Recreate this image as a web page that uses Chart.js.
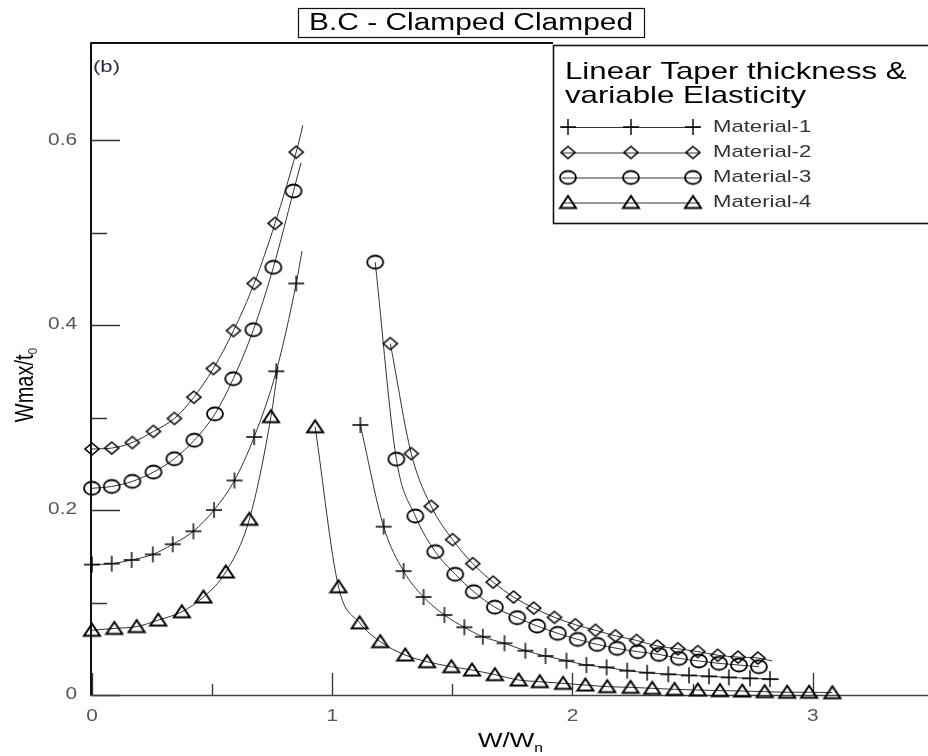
<!DOCTYPE html>
<html>
<head>
<meta charset="utf-8">
<script src="https://cdn.jsdelivr.net/npm/chart.js@4.4.1/dist/chart.umd.min.js"></script>
<style>
    html, body { margin: 0; padding: 0; background: #fff; }
    #chart { display: block; }
</style>
</head>
<body>
<canvas id="chart" width="928" height="756"></canvas>
<script>
const materials = ['Material-1', 'Material-2', 'Material-3', 'Material-4'];

// W/Wn (x) and Wmax/to (y). Left = below resonance, right = above.
const m1LeftX = [0, 0.082, 0.165, 0.253, 0.336, 0.422, 0.508, 0.593, 0.675, 0.767, 0.85];
const m1LeftY = [0.141, 0.142, 0.146, 0.152, 0.163, 0.177, 0.200, 0.232, 0.279, 0.350, 0.445];
const m1RightX = [1.117, 1.214, 1.297, 1.380, 1.467, 1.550, 1.627, 1.717, 1.804, 1.888, 1.975, 2.058, 2.142, 2.228, 2.311, 2.399, 2.485, 2.568, 2.651, 2.739, 2.822];
const m1RightY = [0.292, 0.182, 0.134, 0.106, 0.0865, 0.0732, 0.063, 0.0559, 0.0479, 0.0422, 0.0371, 0.0324, 0.0299, 0.0263, 0.0241, 0.0224, 0.0212, 0.0202, 0.0190, 0.0180, 0.0172];

const m2LeftX = [0, 0.082, 0.168, 0.256, 0.343, 0.424, 0.505, 0.589, 0.675, 0.762, 0.85];
const m2LeftY = [0.266, 0.267, 0.273, 0.285, 0.299, 0.322, 0.353, 0.394, 0.445, 0.510, 0.587];
const m2RightX = [1.242, 1.329, 1.412, 1.501, 1.585, 1.670, 1.755, 1.839, 1.925, 2.012, 2.096, 2.179, 2.267, 2.353, 2.439, 2.522, 2.605, 2.689, 2.772];
const m2RightY = [0.380, 0.261, 0.204, 0.168, 0.142, 0.122, 0.106, 0.094, 0.084, 0.076, 0.070, 0.064, 0.059, 0.053, 0.050, 0.047, 0.043, 0.041, 0.040];

const m3LeftX = [0, 0.082, 0.168, 0.256, 0.343, 0.426, 0.512, 0.588, 0.672, 0.755, 0.839];
const m3LeftY = [0.2235, 0.2255, 0.231, 0.241, 0.2555, 0.2755, 0.304, 0.342, 0.395, 0.4625, 0.545];
const m3RightX = [1.179, 1.267, 1.346, 1.429, 1.512, 1.589, 1.677, 1.770, 1.853, 1.939, 2.022, 2.103, 2.186, 2.272, 2.360, 2.443, 2.526, 2.610, 2.693, 2.776];
const m3RightY = [0.468, 0.255, 0.1935, 0.155, 0.1305, 0.1117, 0.095, 0.0836, 0.0746, 0.0667, 0.0601, 0.0547, 0.0504, 0.0468, 0.0439, 0.0396, 0.0368, 0.0342, 0.0324, 0.0306];

const m4LeftX = [0, 0.093, 0.186, 0.276, 0.374, 0.464, 0.557, 0.655, 0.745];
const m4LeftY = [0.070, 0.072, 0.074, 0.081, 0.090, 0.106, 0.133, 0.190, 0.301];
const m4RightX = [0.929, 1.026, 1.114, 1.200, 1.304, 1.395, 1.496, 1.582, 1.677, 1.776, 1.864, 1.961, 2.054, 2.145, 2.242, 2.332, 2.425, 2.522, 2.614, 2.707, 2.800, 2.894, 2.985, 3.082];
const m4RightY = [0.290, 0.117, 0.078, 0.0577, 0.0432, 0.036, 0.0306, 0.027, 0.022, 0.0162, 0.0144, 0.0126, 0.0108, 0.009, 0.0083, 0.0072, 0.0061, 0.0054, 0.0047, 0.0043, 0.0036, 0.003, 0.003, 0.0025];

// curve runs on a little past the last marker (no marker drawn there)
const leftTipX = [0.874, 0.878, 0.870, 0.775];
const leftTipY = [0.480, 0.616, 0.5755, 0.355];
const rightTailX = [2.86, 2.832, null, null];
const rightTailY = [0.017, 0.0368, null, null];

const xTickValues = [0, 0.5, 1, 1.5, 2, 2.5, 3];
const xTickLabels = ['0', '', '1', '', '2', '', '3'];
const yTickValues = [0, 0.1, 0.2, 0.3, 0.4, 0.5, 0.6];
const yTickLabels = ['0', '', '0.2', '', '0.4', '', '0.6'];

const FONT = "'Liberation Sans', Arial, sans-serif";
const SX = 1.3; // the source figure is stretched sideways

function makeMarker(kind) {
    const c = document.createElement('canvas');
    c.width = 20; c.height = 18;
    const g = c.getContext('2d');
    const cx = 10, cy = 9;
    g.strokeStyle = '#000';
    g.lineWidth = 1.8;
    g.beginPath();
    if (kind === 'plus') {
        g.lineWidth = 1.4;
        g.moveTo(cx - 8, cy); g.lineTo(cx + 8, cy);
        g.moveTo(cx, cy - 8); g.lineTo(cx, cy + 8);
    } else if (kind === 'diamond') {
        g.lineWidth = 1.6;
        g.moveTo(cx, cy - 6); g.lineTo(cx + 7, cy); g.lineTo(cx, cy + 6); g.lineTo(cx - 7, cy); g.closePath();
    } else if (kind === 'circle') {
        g.ellipse(cx, cy, 8, 6.5, 0, 0, Math.PI * 2);
    } else {
        g.lineWidth = 2;
        g.moveTo(cx, cy - 6.5); g.lineTo(cx + 8, cy + 5.5); g.lineTo(cx - 8, cy + 5.5); g.closePath();
    }
    g.stroke();
    return c;
}

const markers = ['plus', 'diamond', 'circle', 'triangle'].map(makeMarker);

const branches = [
    [m1LeftX, m1LeftY, m1RightX, m1RightY],
    [m2LeftX, m2LeftY, m2RightX, m2RightY],
    [m3LeftX, m3LeftY, m3RightX, m3RightY],
    [m4LeftX, m4LeftY, m4RightX, m4RightY]
];

const pts = (xs, ys) => xs.map((x, i) => ({ x, y: ys[i] }));

const datasets = [];
branches.forEach(([lx, ly, rx, ry], i) => {
    const left = pts(lx, ly);
    left.push({ x: leftTipX[i], y: leftTipY[i], tip: true });
    const right = pts(rx, ry);
    if (rightTailX[i] !== null) right.push({ x: rightTailX[i], y: rightTailY[i], tip: true });
    [left, right].forEach((data, k) => datasets.push({
        label: materials[i] + (k ? ' (above)' : ' (below)'),
        data,
        pointStyle: markers[i],
        pointRadius: (c) => (c.raw && c.raw.tip ? 0 : 8),
        borderColor: '#333',
        borderWidth: 1,
        fill: false,
        cubicInterpolationMode: 'monotone',
        clip: 20
    }));
});

function text(ctx, str, x, y, size, color, align = 'left', base = 'alphabetic') {
    ctx.save();
    ctx.font = `${size}px ${FONT}`;
    ctx.fillStyle = color;
    ctx.textBaseline = base;
    ctx.textAlign = 'left';
    const w = ctx.measureText(str).width * SX;
    const x0 = align === 'center' ? x - w / 2 : (align === 'right' ? x - w : x);
    ctx.translate(x0, y);
    ctx.scale(SX, 1);
    ctx.fillText(str, 0, 0);
    ctx.restore();
    return w;
}

const framePlugin = {
    id: 'frame',
    beforeDatasetsDraw(chart) {
        const { ctx, chartArea: a, scales: { x, y } } = chart;
        ctx.save();
        ctx.strokeStyle = '#333';
        ctx.lineWidth = 1.3;
        ctx.beginPath();
        yTickValues.forEach((v, i) => {
            const py = Math.round(y.getPixelForValue(v)) + 0.5;
            ctx.moveTo(a.left, py);
            ctx.lineTo(a.left + (yTickLabels[i] ? 28 : 15), py);
        });
        xTickValues.forEach((v, i) => {
            const px = Math.round(x.getPixelForValue(v)) + 0.5;
            ctx.moveTo(px, a.bottom);
            ctx.lineTo(px, a.bottom - (xTickLabels[i] ? 22 : 11));
        });
        ctx.stroke();

        ctx.strokeStyle = '#111';
        ctx.lineWidth = 2;
        ctx.beginPath();
        ctx.moveTo(a.left - 1, a.top);
        ctx.lineTo(a.left - 1, a.bottom);
        ctx.moveTo(a.left - 2, a.top);
        ctx.lineTo(553, a.top);
        ctx.stroke();
        ctx.strokeStyle = '#444';
        ctx.lineWidth = 1.5;
        ctx.beginPath();
        ctx.moveTo(a.left - 2, a.bottom + 0.5);
        ctx.lineTo(chart.width, a.bottom + 0.5);
        ctx.stroke();
        ctx.restore();
    },
    afterDraw(chart) {
        const { ctx, scales: { x, y } } = chart;

        // tick labels
        yTickValues.forEach((v, i) => {
            if (yTickLabels[i]) text(ctx, yTickLabels[i], 77, y.getPixelForValue(v), 16, '#555', 'right', 'middle');
        });
        xTickValues.forEach((v, i) => {
            if (xTickLabels[i]) text(ctx, xTickLabels[i], x.getPixelForValue(v), 717, 16, '#555', 'center', 'middle');
        });

        // axis titles
        const w1 = text(ctx, 'W/W', 478, 747, 20, '#000');
        text(ctx, 'n', 478 + w1, 752, 12, '#000');

        ctx.save();
        ctx.translate(33, 385);
        ctx.scale(SX, 1);
        ctx.rotate(-Math.PI / 2);
        ctx.font = `20px ${FONT}`;
        const main = ctx.measureText('Wmax/t').width;
        ctx.font = `12px ${FONT}`;
        const sub = ctx.measureText('o').width;
        const start = -(main + sub) / 2;
        ctx.font = `20px ${FONT}`;
        ctx.fillStyle = '#000';
        ctx.fillText('Wmax/t', start, 0);
        ctx.font = `12px ${FONT}`;
        ctx.fillStyle = '#2a4a8a';
        ctx.fillText('o', start + main, 3);
        ctx.restore();

        text(ctx, '(b)', 93, 72, 17, '#2a2a48');

        // title box
        ctx.save();
        ctx.fillStyle = '#fff';
        ctx.fillRect(298, 8, 347, 29);
        ctx.strokeStyle = '#111';
        ctx.lineWidth = 1.2;
        ctx.strokeRect(298.5, 8.5, 346, 29);
        ctx.restore();
        text(ctx, 'B.C - Clamped Clamped', 471, 23.5, 23, '#000', 'center', 'middle');

        // legend
        ctx.save();
        ctx.fillStyle = '#fff';
        ctx.fillRect(553, 45, 380, 178);
        ctx.strokeStyle = '#111';
        ctx.lineWidth = 1.6;
        ctx.strokeRect(553.5, 45.5, 380, 178);
        ctx.restore();
        text(ctx, 'Linear Taper thickness &', 565, 79, 24, '#000');
        text(ctx, 'variable Elasticity', 565, 103, 24, '#000');
        const rows = [127, 152.5, 177.5, 202.5];
        materials.forEach((name, i) => {
            const ry = rows[i];
            ctx.save();
            ctx.strokeStyle = '#333';
            ctx.lineWidth = 1;
            ctx.beginPath();
            ctx.moveTo(562, ry + 0.5);
            ctx.lineTo(700, ry + 0.5);
            ctx.stroke();
            [568, 631, 693].forEach((mx) => ctx.drawImage(markers[i], mx - 10, ry - 9));
            ctx.restore();
            text(ctx, name, 713, ry, 17, '#333', 'left', 'middle');
        });
    }
};

new Chart(document.getElementById('chart'), {
    type: 'line',
    data: { datasets },
    options: {
        responsive: false,
        animation: false,
        devicePixelRatio: 1,
        layout: { autoPadding: false, padding: { left: 92, top: 43, right: 0, bottom: 61 } },
        plugins: { legend: { display: false }, tooltip: { enabled: false } },
        scales: {
            x: { type: 'linear', min: 0, max: 3.48, display: false },
            y: { type: 'linear', min: 0, max: 0.705, display: false }
        }
    },
    plugins: [framePlugin]
});
</script>
</body>
</html>
